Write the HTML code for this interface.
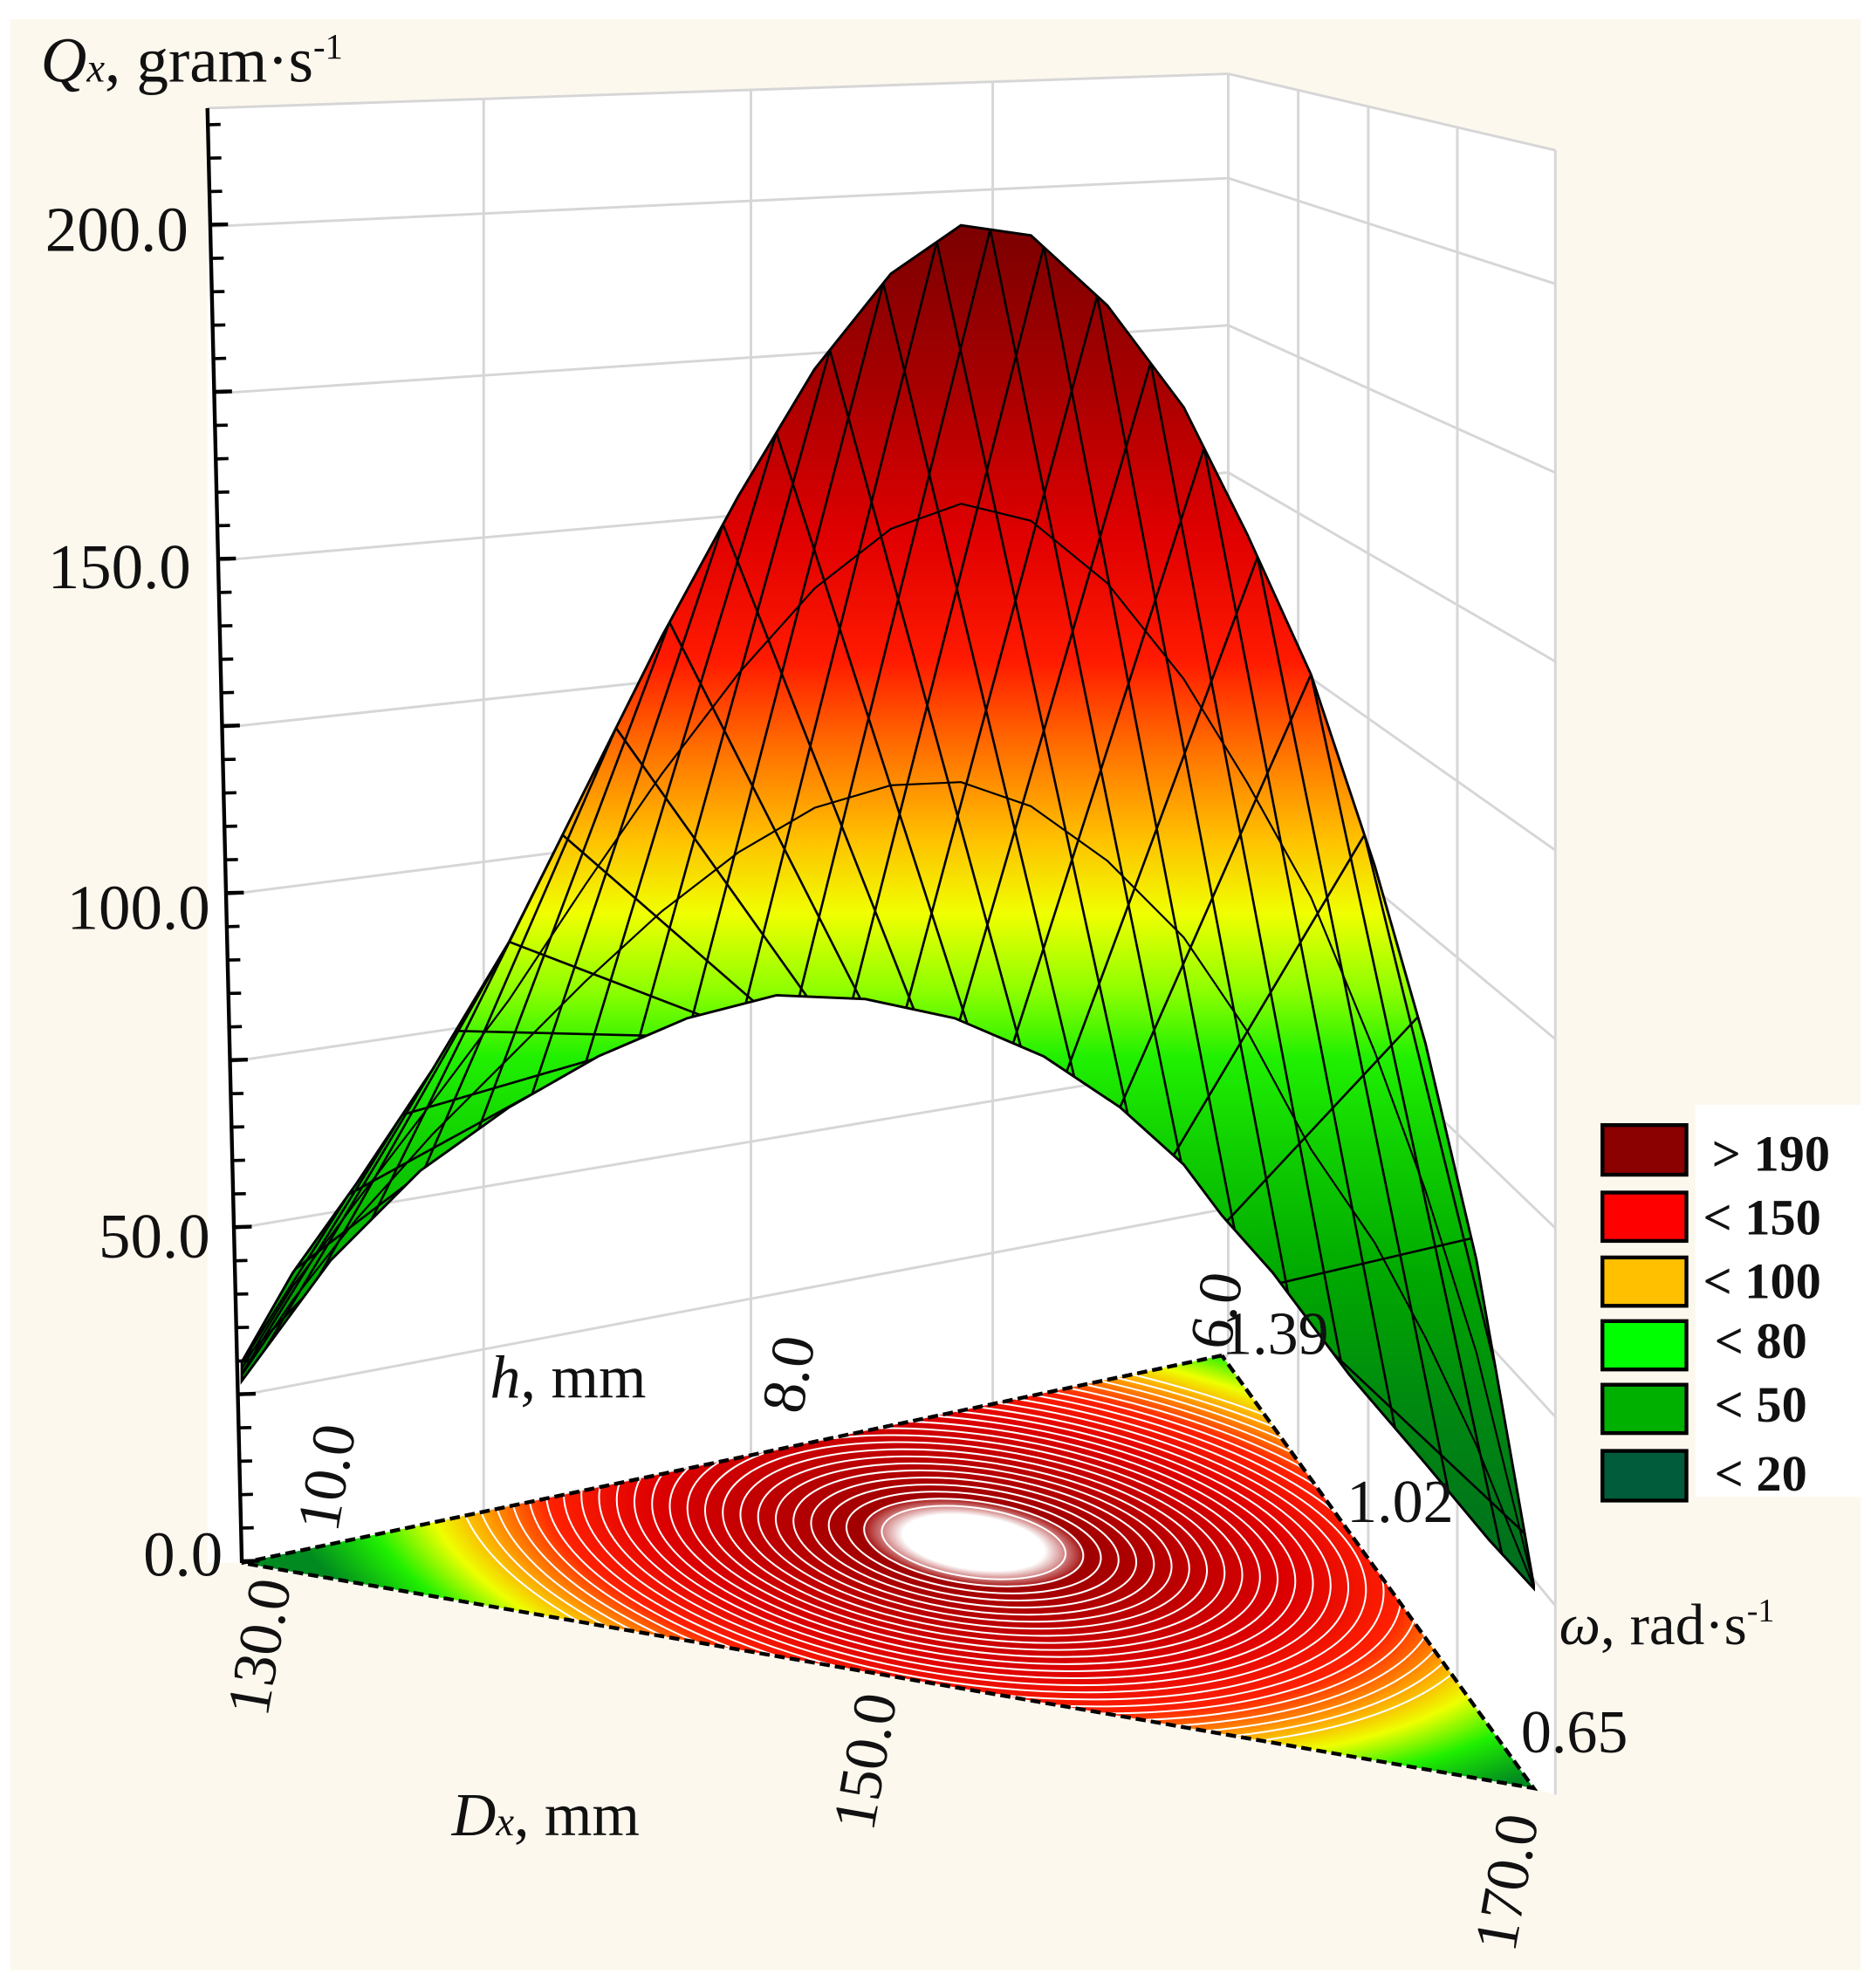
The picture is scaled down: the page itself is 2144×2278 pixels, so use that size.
<!DOCTYPE html>
<html><head><meta charset="utf-8"><style>
html,body{margin:0;padding:0;background:#fff;}
svg{display:block}
text{font-family:"Liberation Serif","DejaVu Serif",serif;fill:#111}
</style></head><body>
<svg width="2144" height="2278" viewBox="0 0 1470 1562" preserveAspectRatio="none" xmlns="http://www.w3.org/2000/svg">
<defs>
<linearGradient id="sg" gradientUnits="userSpaceOnUse" x1="0" y1="175" x2="0" y2="1250">
<stop offset="0" stop-color="#7a0000"/>
<stop offset="0.12" stop-color="#a80000"/>
<stop offset="0.23" stop-color="#e00000"/>
<stop offset="0.32" stop-color="#ff1a00"/>
<stop offset="0.385" stop-color="#ff7000"/>
<stop offset="0.45" stop-color="#ffc000"/>
<stop offset="0.505" stop-color="#f0ff00"/>
<stop offset="0.56" stop-color="#90ff00"/>
<stop offset="0.61" stop-color="#20f000"/>
<stop offset="0.675" stop-color="#10d000"/>
<stop offset="0.77" stop-color="#00a800"/>
<stop offset="0.86" stop-color="#008a10"/>
<stop offset="1" stop-color="#006a20"/>
</linearGradient>
<radialGradient id="fg" gradientUnits="userSpaceOnUse" cx="0" cy="0" r="1" gradientTransform="translate(765,1212) rotate(8) scale(560,210)">
<stop offset="0" stop-color="#ffffff"/>
<stop offset="0.1" stop-color="#ffffff"/>
<stop offset="0.16" stop-color="#a00000"/>
<stop offset="0.45" stop-color="#dd0000"/>
<stop offset="0.6" stop-color="#ff2000"/>
<stop offset="0.7" stop-color="#ffa000"/>
<stop offset="0.78" stop-color="#eeff00"/>
<stop offset="0.88" stop-color="#20f000"/>
<stop offset="1" stop-color="#008a20"/>
</radialGradient>
<clipPath id="sc"><path d="M190,1070 L230,1000 L280,930 L340,840 L400,740 L460,620 L520,500 L580,390 L640,290 L700,215 L755,177 L810,185 L870,240 L930,320 L980,420 L1030,530 L1080,680 L1120,820 L1160,990 L1205,1245 L1205,1248 L1170,1210 L1120,1150 L1060,1080 L1000,1000 L960,955 L930,915 L880,870 L820,830 L750,800 L680,785 L610,782 L540,800 L470,830 L400,870 L330,920 L260,990 L190,1085 Z"/></clipPath>
<clipPath id="fc"><polygon points="190,1228 960,1065 1205,1405"/></clipPath>
</defs>
<rect x="0" y="0" width="1470" height="1562" fill="#fff"/>
<rect x="8" y="15" width="1454" height="1533" fill="#fdf8ee"/>
<polygon points="163,85 965,58 1222,118 1222,1410 1205,1405 190,1228 163,1228" fill="#fff"/>
<g stroke="#d6d6d6" stroke-width="2" fill="none">
<line x1="186.9" y1="1096.75" x2="965" y2="949.4"/><line x1="965" y1="949.4" x2="1222" y2="1261.6"/>
<line x1="183.8" y1="965.5" x2="965" y2="833.75"/><line x1="965" y1="833.75" x2="1222" y2="1113.25"/>
<line x1="180.7" y1="834.25" x2="965" y2="718.1"/><line x1="965" y1="718.1" x2="1222" y2="964.9"/>
<line x1="177.6" y1="703" x2="965" y2="602.5"/><line x1="965" y1="602.5" x2="1222" y2="816.5"/>
<line x1="174.5" y1="571.75" x2="965" y2="486.9"/><line x1="965" y1="486.9" x2="1222" y2="668.1"/>
<line x1="171.4" y1="440.5" x2="965" y2="371.25"/><line x1="965" y1="371.25" x2="1222" y2="519.75"/>
<line x1="168.3" y1="309.25" x2="965" y2="255.6"/><line x1="965" y1="255.6" x2="1222" y2="371.4"/>
<line x1="165.2" y1="178" x2="965" y2="140"/><line x1="965" y1="140" x2="1222" y2="223"/>
<line x1="163" y1="85" x2="965" y2="58"/><line x1="965" y1="58" x2="1222" y2="118"/>
<line x1="380" y1="77.7" x2="380" y2="1188"/>
<line x1="590" y1="70.6" x2="590" y2="1144"/>
<line x1="780" y1="64.2" x2="780" y2="1104"/>
<line x1="965" y1="58" x2="965" y2="1065"/>
<line x1="1020" y1="70.8" x2="1020" y2="1143"/>
<line x1="1075" y1="83.7" x2="1075" y2="1221"/>
<line x1="1145" y1="100" x2="1145" y2="1320"/>
<line x1="1222" y1="118" x2="1222" y2="1410"/>
<line x1="380" y1="1188" x2="965" y2="1065"/>
</g>
<!-- floor -->
<g clip-path="url(#fc)">
<rect x="180" y="1050" width="1040" height="370" fill="url(#fg)"/>
<g fill="none" stroke="#fff" stroke-width="1.4" transform="rotate(8 765 1212)">
<ellipse cx="765" cy="1212" rx="72.8" ry="27.3"/><ellipse cx="765" cy="1212" rx="86.8" ry="32.6"/>
<ellipse cx="765" cy="1212" rx="100.8" ry="37.8"/><ellipse cx="765" cy="1212" rx="114.8" ry="43.1"/>
<ellipse cx="765" cy="1212" rx="128.8" ry="48.3"/><ellipse cx="765" cy="1212" rx="142.8" ry="53.6"/>
<ellipse cx="765" cy="1212" rx="156.8" ry="58.8"/><ellipse cx="765" cy="1212" rx="170.8" ry="64"/>
<ellipse cx="765" cy="1212" rx="184.8" ry="69.3"/><ellipse cx="765" cy="1212" rx="198.8" ry="74.6"/>
<ellipse cx="765" cy="1212" rx="212.8" ry="79.8"/><ellipse cx="765" cy="1212" rx="226.8" ry="85"/>
<ellipse cx="765" cy="1212" rx="240.8" ry="90.3"/><ellipse cx="765" cy="1212" rx="254.8" ry="95.6"/>
<ellipse cx="765" cy="1212" rx="268.8" ry="100.8"/><ellipse cx="765" cy="1212" rx="282.8" ry="106"/>
<ellipse cx="765" cy="1212" rx="296.8" ry="111.3"/><ellipse cx="765" cy="1212" rx="310.8" ry="116.6"/>
<ellipse cx="765" cy="1212" rx="324.8" ry="121.8"/><ellipse cx="765" cy="1212" rx="338.8" ry="127"/>
<ellipse cx="765" cy="1212" rx="352.8" ry="132.3"/><ellipse cx="765" cy="1212" rx="366.8" ry="137.6"/>
<ellipse cx="765" cy="1212" rx="380.8" ry="142.8"/><ellipse cx="765" cy="1212" rx="394.8" ry="148"/>
<ellipse cx="765" cy="1212" rx="408.8" ry="153.3"/>
</g>
</g>
<polyline points="960,1065 190,1228 1205,1405 960,1065" fill="none" stroke="#000" stroke-width="3" stroke-dasharray="8,4"/>
<!-- surface -->
<path d="M190,1070 L230,1000 L280,930 L340,840 L400,740 L460,620 L520,500 L580,390 L640,290 L700,215 L755,177 L810,185 L870,240 L930,320 L980,420 L1030,530 L1080,680 L1120,820 L1160,990 L1205,1245 L1205,1248 L1170,1210 L1120,1150 L1060,1080 L1000,1000 L960,955 L930,915 L880,870 L820,830 L750,800 L680,785 L610,782 L540,800 L470,830 L400,870 L330,920 L260,990 L190,1085 Z" fill="url(#sg)" stroke="#000" stroke-width="2"/>
<g clip-path="url(#sc)" fill="none" stroke="#000" stroke-width="1.8">
<line x1="190" y1="1070" x2="340" y2="912.9"/><line x1="232" y1="997.2" x2="382" y2="882.9"/>
<line x1="274" y1="938.4" x2="424" y2="856.3"/><line x1="316" y1="876" x2="466" y2="832.3"/>
<line x1="358" y1="810" x2="508" y2="813.7"/><line x1="400" y1="740" x2="550" y2="797.4"/>
<line x1="442" y1="656" x2="592" y2="786.6"/><line x1="484" y1="572" x2="634" y2="783"/>
<line x1="526" y1="489" x2="676" y2="784.8"/><line x1="568" y1="412" x2="718" y2="793.1"/>
<line x1="610" y1="340" x2="760" y2="804.3"/><line x1="652" y1="275" x2="802" y2="822.3"/>
<line x1="694" y1="222.5" x2="844" y2="846"/><line x1="736" y1="190" x2="886" y2="875.4"/>
<line x1="778" y1="180.3" x2="928" y2="913.2"/><line x1="820" y1="194" x2="970" y2="966.3"/>
<line x1="862" y1="232.7" x2="1012" y2="1016"/><line x1="904" y1="285" x2="1054" y2="1072"/>
<line x1="946" y1="352" x2="1096" y2="1122"/><line x1="988" y1="437.6" x2="1138" y2="1171.6"/>
<line x1="1030" y1="530" x2="1180" y2="1220.9"/><line x1="1072" y1="656" x2="1222" y2="1266"/>
<line x1="1114" y1="799" x2="1264" y2="1312"/><line x1="1156" y1="973" x2="1306" y2="1357"/>
<line x1="190" y1="1070" x2="40" y2="1289"/><line x1="232" y1="997.2" x2="82" y2="1232"/>
<line x1="274" y1="938.4" x2="124" y2="1175"/><line x1="316" y1="876" x2="166" y2="1118"/>
<line x1="358" y1="810" x2="208" y2="1060.6"/><line x1="400" y1="740" x2="250" y2="1003.6"/>
<line x1="442" y1="656" x2="292" y2="958"/><line x1="484" y1="572" x2="334" y2="917.1"/>
<line x1="526" y1="489" x2="376" y2="887.1"/><line x1="568" y1="412" x2="418" y2="859.7"/>
<line x1="610" y1="340" x2="460" y2="835.7"/><line x1="652" y1="275" x2="502" y2="816.3"/>
<line x1="694" y1="222.5" x2="544" y2="799"/><line x1="736" y1="190" x2="586" y2="788.2"/>
<line x1="778" y1="180.3" x2="628" y2="782.8"/><line x1="820" y1="194" x2="670" y2="784.6"/>
<line x1="862" y1="232.7" x2="712" y2="791.9"/><line x1="904" y1="285" x2="754" y2="801.7"/>
<line x1="946" y1="352" x2="796" y2="819.7"/><line x1="988" y1="437.6" x2="838" y2="842"/>
<line x1="1030" y1="530" x2="880" y2="870"/><line x1="1072" y1="656" x2="922" y2="907.8"/>
<line x1="1114" y1="799" x2="964" y2="959.5"/><line x1="1156" y1="973" x2="1006" y2="1008"/>
<line x1="1198" y1="1205" x2="1048" y2="1064"/>
<polyline stroke-width="1.5" points="190,1075.3 230,1010.7 280,944 340,865.5 400,785.5 460,695 520,608 580,529.4 640,462.3 700,415.5 755,395.8 810,409.2 870,458.2 930,533.5 980,615.1 1030,705 1080,826.2 1120,935.5 1160,1062.8 1205,1246"/>
<polyline stroke-width="1.5" points="190,1080.5 230,1021.5 280,958 340,891 400,831 460,771 520,716 580,669.8 640,634.7 700,617 755,614.5 810,633.5 870,676.3 930,736.5 980,810.3 1030,903 1080,976.3 1120,1051 1160,1135.6 1205,1247"/>
</g>
<!-- y axis -->
<line x1="163" y1="85" x2="190" y2="1228" stroke="#000" stroke-width="3"/>
<line x1="195.5" y1="1228" x2="168.5" y2="85" stroke="#000" stroke-width="9" stroke-dasharray="2.5,23.76"/>
<line x1="197.5" y1="1228" x2="170.5" y2="85" stroke="#000" stroke-width="13" stroke-dasharray="3,128.3"/>
<g font-size="50">
<text x="148" y="197" text-anchor="end">200.0</text>
<text x="150" y="462" text-anchor="end">150.0</text>
<text x="165" y="730" text-anchor="end">100.0</text>
<text x="165" y="988" text-anchor="end">50.0</text>
<text x="175" y="1238" text-anchor="end">0.0</text>
</g>
<text x="32" y="64" font-size="50"><tspan font-style="italic">Q</tspan><tspan font-size="32" font-style="italic">x</tspan>, gram·s<tspan font-size="28" dy="-18">-1</tspan></text>
<text x="385" y="1098" font-size="48"><tspan font-style="italic">h</tspan>, mm</text>
<text x="355" y="1442" font-size="48"><tspan font-style="italic">D</tspan><tspan font-size="32" font-style="italic">x</tspan>, mm</text>
<text x="1225" y="1292" font-size="46"><tspan font-style="italic">ω</tspan>, rad·s<tspan font-size="26" dy="-18">-1</tspan></text>
<g font-size="48">
<text x="960" y="1064">1.39</text>
<text x="1058" y="1196">1.02</text>
<text x="1195" y="1377">0.65</text>
<text transform="translate(265,1205) rotate(-80)">10.0</text>
<text transform="translate(630,1112) rotate(-80)">8.0</text>
<text transform="translate(966,1062) rotate(-80)">6.0</text>
<text transform="translate(210,1350) rotate(-80)">130.0</text>
<text transform="translate(686,1440) rotate(-80)">150.0</text>
<text transform="translate(1190,1535) rotate(-80)">170.0</text>
</g>
<!-- legend -->
<rect x="1332" y="868" width="130" height="308" fill="#fff"/>
<g stroke="#000" stroke-width="3">
<rect x="1259" y="884" width="66" height="39" fill="#8b0000"/>
<rect x="1259" y="937" width="66" height="38" fill="#ff0000"/>
<rect x="1259" y="988" width="66" height="38" fill="#ffc000"/>
<rect x="1259" y="1038" width="66" height="38" fill="#00ff00"/>
<rect x="1259" y="1088" width="66" height="38" fill="#00b000"/>
<rect x="1259" y="1140" width="66" height="39" fill="#005c3a"/>
</g>
<g font-size="40" font-weight="bold">
<text x="1345" y="920">&gt; 190</text>
<text x="1338" y="970">&lt; 150</text>
<text x="1338" y="1020">&lt; 100</text>
<text x="1347" y="1067">&lt; 80</text>
<text x="1347" y="1117">&lt; 50</text>
<text x="1347" y="1171">&lt; 20</text>
</g>
</svg>
</body></html>
